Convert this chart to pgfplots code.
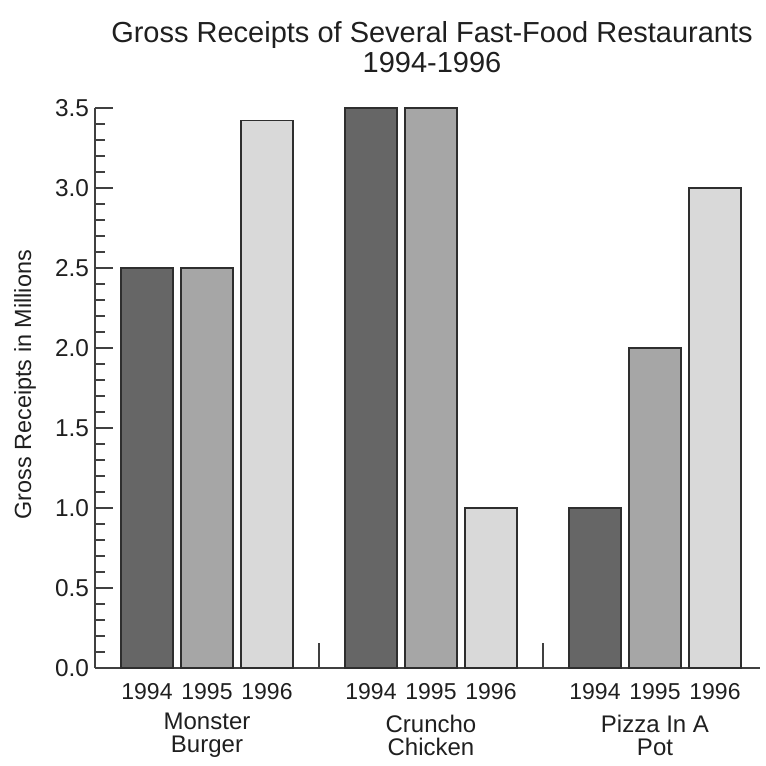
\documentclass[border=0pt]{standalone}
\usepackage{pgfplots}
\pgfplotsset{compat=1.18}
\usepackage{fontspec}
\setmainfont{Liberation Sans}
\definecolor{barA}{HTML}{666666}
\definecolor{barB}{HTML}{A6A6A6}
\definecolor{barC}{HTML}{D9D9D9}
\definecolor{edge}{HTML}{2E2E2E}
\definecolor{axisgray}{HTML}{404040}
\begin{document}
\begin{tikzpicture}
\begin{axis}[
  x=0.5pt, y=80pt,
  xmin=95, xmax=760, ymin=0, ymax=3.5,
  clip=false,
  axis x line=bottom, axis y line=left,
  axis line style={-, draw=axisgray, line width=0.8pt},
  ytick={0,0.5,1,1.5,2,2.5,3,3.5},
  minor y tick num=4,
  tick align=inside,
  major tick length=9pt, minor tick length=5pt,
  y tick style={draw=axisgray, line width=0.8pt},
  /pgf/number format/assume math mode=true,
  yticklabel={\pgfmathprintnumber[fixed, fixed zerofill, precision=1]{\tick}},
  tick label style={font=\fontsize{11.5}{13}\selectfont, text=black!88},
  yticklabel style={font=\fontsize{12.2}{13}\selectfont, xshift=0.5pt},
  xtick={147,207,267,371,431,491,595,655,715},
  xticklabels={1994,1995,1996,1994,1995,1996,1994,1995,1996},
  x tick style={draw=none},
  xticklabel style={anchor=center, yshift=-12pt},
  extra x ticks={207,431,655},
  extra x tick labels={{Monster\\Burger},{Cruncho\\Chicken},{Pizza In A\\Pot}},
  extra x tick style={tick style={draw=none}, tick label style={align=center, anchor=center, yshift=-21.5pt, font=\fontsize{12}{11.5}\selectfont}},
  ylabel={Gross Receipts in Millions},
  every axis y label/.style={at={(axis cs:25,1.77)}, rotate=90, anchor=center, font=\fontsize{11.7}{13}\selectfont, text=black!88},
  bar width=52,
]
\path (axis cs:0,-0.6125) rectangle (axis cs:766,4.175);
\addplot[ybar, bar shift=0pt, fill=barA, draw=edge, line width=0.6pt] coordinates {(147,2.5) (371,3.5) (595,1.0)};
\addplot[ybar, bar shift=0pt, fill=barB, draw=edge, line width=0.6pt] coordinates {(207,2.5) (431,3.5) (655,2.0)};
\addplot[ybar, bar shift=0pt, fill=barC, draw=edge, line width=0.6pt] coordinates {(267,3.42) (491,1.0) (715,3.0)};
\addplot[ycomb, mark=none, draw=axisgray, line width=0.8pt] coordinates {(319,0.156) (543,0.156)};
\node[align=center, font=\fontsize{14.5}{15}\selectfont, text=black!88] at (axis cs:432,3.88) {Gross Receipts of Several Fast-Food Restaurants\\1994-1996};
\end{axis}
\end{tikzpicture}
\end{document}
